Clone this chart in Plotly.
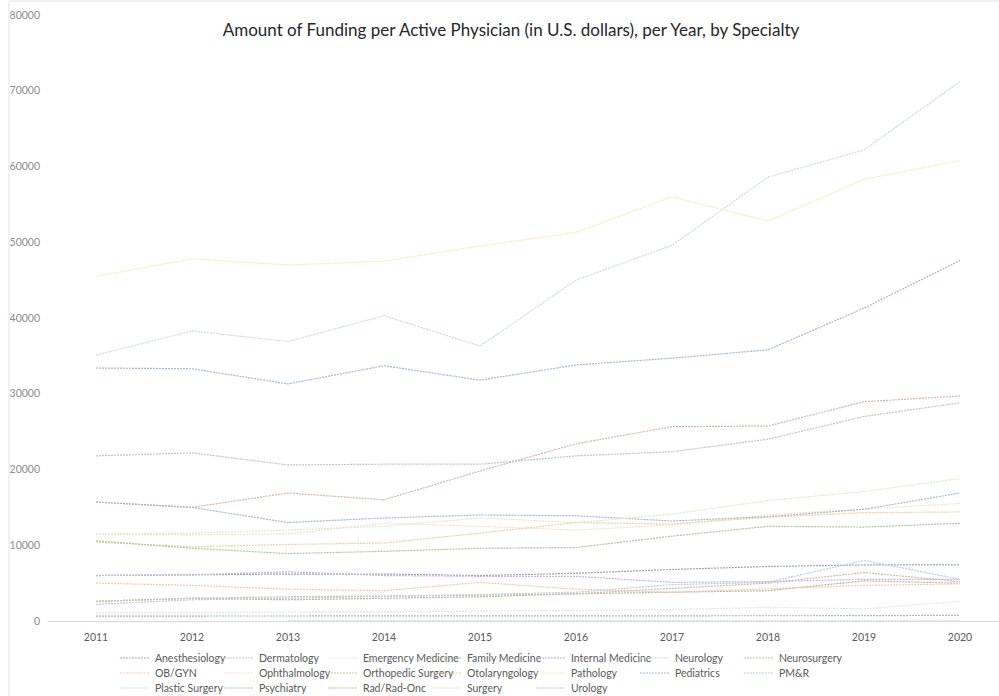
import plotly.graph_objects as go

years = [2011, 2012, 2013, 2014, 2015, 2016, 2017, 2018, 2019, 2020]

specialties = ["Anesthesiology", "Dermatology", "Emergency Medicine", "Family Medicine",
               "Internal Medicine", "Neurology", "Neurosurgery", "OB/GYN", "Ophthalmology",
               "Orthopedic Surgery", "Otolaryngology", "Pathology", "Pediatrics", "PM&R",
               "Plastic Surgery", "Psychiatry", "Rad/Rad-Onc", "Surgery", "Urology"]

anesthesiology = [6000, 6100, 6200, 6200, 6000, 6300, 6800, 7200, 7400, 7400]
dermatology = [21800, 22200, 20600, 20700, 20700, 21800, 22350, 24000, 27000, 28800]
emergency_medicine = [1100, 1100, 1200, 1200, 1300, 1400, 1500, 1800, 1600, 2600]
family_medicine = [2600, 3000, 2800, 3000, 3200, 3600, 3800, 4000, 5300, 5000]
internal_medicine = [33400, 33300, 31300, 33700, 31800, 33800, 34700, 35800, 41300, 47600]
neurology = [35100, 38300, 36900, 40300, 36300, 45000, 49600, 58600, 62200, 71200]
neurosurgery = [15700, 15000, 16900, 16000, 19800, 23400, 25650, 25740, 28950, 29700]
ob_gyn = [5000, 4700, 4200, 4000, 5100, 4200, 3800, 4200, 4700, 4900]
ophthalmology = [11500, 11400, 11500, 12900, 12500, 12000, 12700, 14000, 14800, 15500]
orthopedic_surgery = [2600, 3000, 3200, 3300, 3400, 3600, 4300, 5000, 6400, 5200]
otolaryngology = [10400, 9800, 10100, 10300, 11600, 13000, 12800, 13700, 14300, 14400]
pathology = [45500, 47800, 47000, 47500, 49500, 51300, 56000, 52800, 58300, 60800]
pediatrics = [15700, 15000, 13000, 13600, 14000, 13900, 13200, 13770, 14750, 16900]
pm_r = [2200, 2800, 3000, 3200, 3500, 3800, 4800, 5100, 8000, 5500]
plastic_surgery = [None, None, 50, 50, 50, 50, 50, 50, 50, 50]
psychiatry = [650, 650, 650, 650, 700, 700, 700, 700, 700, 750]
rad_onc = [10600, 9600, 8900, 9200, 9600, 9700, 11200, 12500, 12400, 12900]
surgery = [11500, 11600, 12000, 12500, 13600, 13000, 14100, 15900, 17100, 18800]
urology = [6000, 6100, 6500, 6000, 5900, 5900, 5100, 5200, 5500, 5500]

series = [anesthesiology, dermatology, emergency_medicine, family_medicine, internal_medicine,
          neurology, neurosurgery, ob_gyn, ophthalmology, orthopedic_surgery, otolaryngology,
          pathology, pediatrics, pm_r, plastic_surgery, psychiatry, rad_onc, surgery, urology]

colors = ["#9aa1b2", "#c2c4c8", "#e3e7ee", "#b8b7a0", "#a8b5d6", "#cfd8e9", "#d2b8aa",
          "#f2c8ae", "#f5dfcd", "#cbbf9d", "#ead29c", "#fbe9b3", "#a9b7cd", "#b6cee8",
          "#d3e6f3", "#aabfa3", "#b5c29f", "#dcebcc", "#c6b7da"]

legend_ids = ["legend"] * 7 + ["legend2"] * 7 + ["legend3"] * 5

fig = go.Figure()
for name, vals, col, lg in zip(specialties, series, colors, legend_ids):
    fig.add_trace(go.Scatter(x=years, y=vals, name=name, mode="lines",
                             line=dict(color=col, width=1.2, dash="2px,1px"),
                             legend=lg))

font_family = "Lato, 'Open Sans', sans-serif"
leg_common = dict(orientation="h", xref="container", yref="container", x=0.115,
                  xanchor="left", yanchor="middle", entrywidth=59, itemwidth=30,
                  font=dict(size=10.5, color="#595959", family=font_family),
                  bgcolor="rgba(0,0,0,0)", tracegroupgap=0, itemclick=False)

# chart-area border (left and top edges)
fig.add_shape(type="line", xref="paper", yref="paper", x0=-0.041, x1=-0.041,
              y0=-0.13, y1=1.023, line=dict(color="#e3e3e3", width=1))
fig.add_shape(type="line", xref="paper", yref="paper", x0=-0.041, x1=1.01,
              y0=1.023, y1=1.023, line=dict(color="#e3e3e3", width=1))

fig.update_layout(
    width=999, height=696,
    margin=dict(l=48, r=0, t=15, b=75, autoexpand=False),
    paper_bgcolor="white", plot_bgcolor="white",
    font=dict(family=font_family, color="#595959"),
    title=dict(text="Amount of Funding per Active Physician (in U.S. dollars), per Year, by Specialty",
               x=0.5115, xref="container", xanchor="center", y=0.957, yref="container",
               yanchor="middle", font=dict(size=17, color="#262626", family=font_family)),
    xaxis=dict(range=[2010.5, 2020.406], tickmode="array", tickvals=years,
               ticktext=[str(y) for y in years], showgrid=False, zeroline=False,
               showline=False, ticks="", tickfont=dict(size=10.5, color="#595959"),
               automargin=False, ticklabelstandoff=8),
    yaxis=dict(range=[0, 80000], tickmode="linear", dtick=10000, tickformat="d",
               showgrid=False, zeroline=True, zerolinecolor="#d9d9d9", zerolinewidth=1,
               showline=False, ticks="", tickfont=dict(size=10.5, color="#8c8c8c"),
               ticklabelstandoff=7, automargin=False),
    legend=dict(y=1 - 658 / 696, **leg_common),
    legend2=dict(y=1 - 673 / 696, **leg_common),
    legend3=dict(y=1 - 688 / 696, **leg_common),
)

fig.write_html("out.html", config={"displayModeBar": False},
               post_script="document.body.style.margin='0';")
